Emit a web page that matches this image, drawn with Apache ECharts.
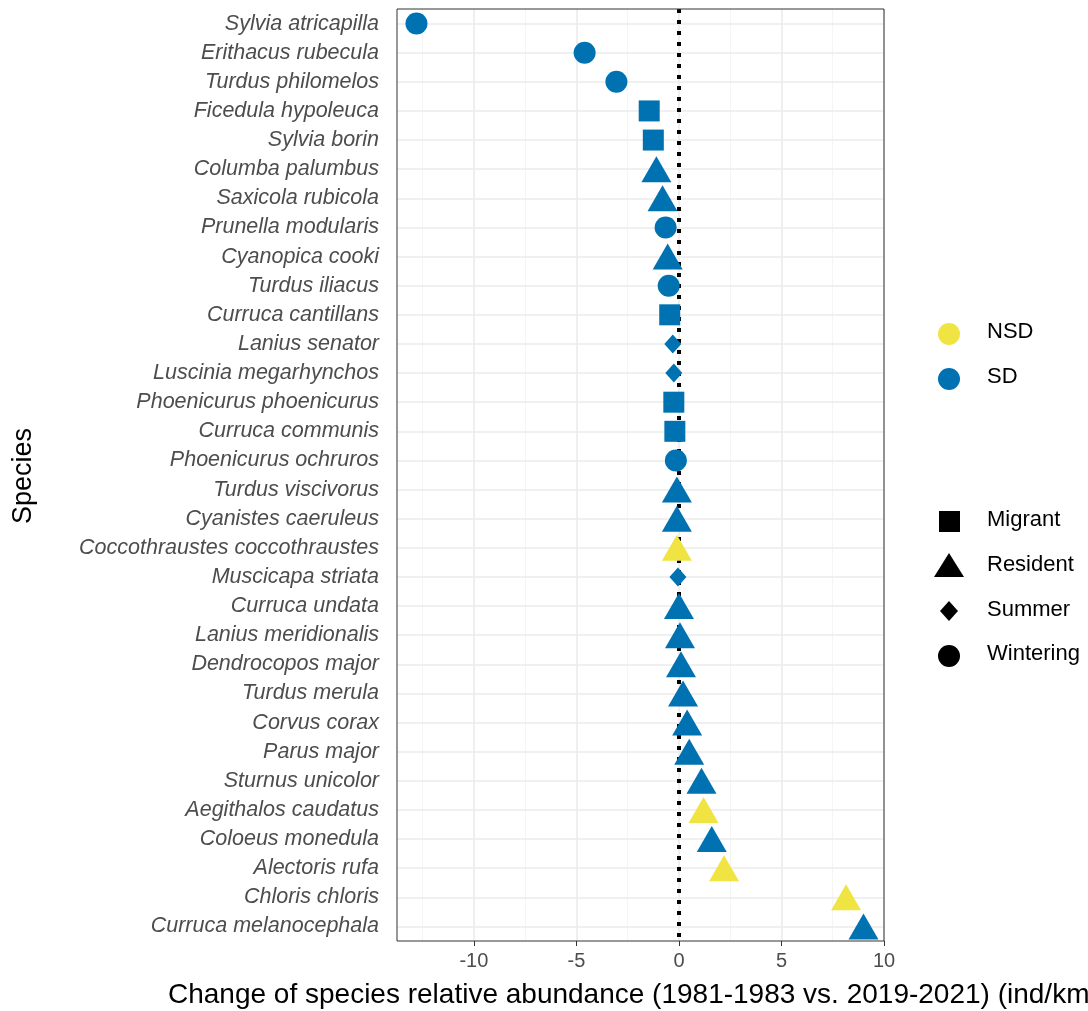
<!DOCTYPE html>
<html><head><meta charset="utf-8">
<script src="https://cdn.jsdelivr.net/npm/echarts@6/dist/echarts.min.js"></script>
<style>html,body{margin:0;background:#fff}#c{width:1088px;height:1011px}</style>
</head><body><div id="c"></div>
<script>
var species = ['Sylvia atricapilla','Erithacus rubecula','Turdus philomelos','Ficedula hypoleuca','Sylvia borin','Columba palumbus','Saxicola rubicola','Prunella modularis','Cyanopica cooki','Turdus iliacus','Curruca cantillans','Lanius senator','Luscinia megarhynchos','Phoenicurus phoenicurus','Curruca communis','Phoenicurus ochruros','Turdus viscivorus','Cyanistes caeruleus','Coccothraustes coccothraustes','Muscicapa striata','Curruca undata','Lanius meridionalis','Dendrocopos major','Turdus merula','Corvus corax','Parus major','Sturnus unicolor','Aegithalos caudatus','Coloeus monedula','Alectoris rufa','Chloris chloris','Curruca melanocephala'];
var change = [-12.8,-4.6,-3.05,-1.45,-1.25,-1.1,-0.8,-0.65,-0.55,-0.5,-0.45,-0.3,-0.25,-0.25,-0.2,-0.15,-0.1,-0.1,-0.1,-0.05,0.0,0.05,0.1,0.2,0.4,0.5,1.1,1.2,1.6,2.2,8.15,9.0];
var residency = ['W','W','W','M','M','R','R','W','R','W','M','S','S','M','M','W','R','R','R','S','R','R','R','R','R','R','R','R','R','R','R','R'];
var signif = ['SD','SD','SD','SD','SD','SD','SD','SD','SD','SD','SD','SD','SD','SD','SD','SD','SD','SD','NSD','SD','SD','SD','SD','SD','SD','SD','SD','NSD','SD','NSD','NSD','SD'];
var xTicks = [-10,-5,0,5,10];
var xMinor = [-12.5,-7.5,-2.5,2.5,7.5];

var colors = {SD:'#0072B2', NSD:'#F0E442'};
var shapes = {W:['circle',22], M:['rect',21], R:['triangle',[30,26]], S:['diamond',[17,19]]};

var chart = echarts.init(document.getElementById('c'));
var data = species.map(function (s, i) {
  return {value:[change[i], s], symbol:shapes[residency[i]][0], symbolSize:shapes[residency[i]][1],
    itemStyle:{color:colors[signif[i]]}};
});
var gridLines = xTicks.map(function (v) { return {xAxis:v, lineStyle:{color:'#ebebeb', width:1.6, type:'solid'}}; })
  .concat(xMinor.map(function (v) { return {xAxis:v, lineStyle:{color:'#f3f3f3', width:0.8, type:'solid'}}; }))
  .concat(species.map(function (s) { return {yAxis:s, lineStyle:{color:'#ebebeb', width:1.6, type:'solid'}}; }));

chart.setOption({
  animation:false,
  grid:{left:397, right:204, top:9, bottom:70, show:true, borderColor:'#333', borderWidth:1, z:10},
  xAxis:{type:'value', min:-13.75, max:10.0,
    axisLine:{show:false}, splitLine:{show:false},
    axisTick:{show:true, customValues:xTicks, length:5, lineStyle:{color:'#333'}},
    axisLabel:{customValues:xTicks, fontSize:20, color:'#4d4d4d', fontFamily:'Liberation Sans', margin:10}},
  yAxis:{type:'category', data:species, inverse:true,
    axisLine:{show:false}, splitLine:{show:false},
    axisTick:{alignWithLabel:true, interval:0, length:5, lineStyle:{color:'#333'}},
    axisLabel:{interval:0, fontSize:21.5, fontStyle:'italic', color:'#4d4d4d', fontFamily:'Liberation Sans', margin:18}},
  series:[
    {type:'scatter', data:[], silent:true,
     markLine:{silent:true, symbol:'none', label:{show:false}, data:gridLines, z:0}},
    {type:'scatter', data:[], silent:true,
     markLine:{silent:true, symbol:'none', label:{show:false}, z:1,
       data:[{xAxis:0, lineStyle:{color:'#000', width:4, type:[4,7]}}]}},
    {type:'scatter', data:data, itemStyle:{opacity:1}, z:5}
  ],
  graphic:[
    {type:'text', left:168, top:981, style:{text:'Change of species relative abundance (1981-1983 vs. 2019-2021) (ind/km)', fontSize:28, fill:'#000', fontFamily:'Liberation Sans'}},
    {type:'text', x:10, y:524, rotation:Math.PI/2, style:{text:'Species', fontSize:27, fill:'#000', fontFamily:'Liberation Sans'}},
    {type:'circle', shape:{cx:949, cy:334, r:11}, style:{fill:colors.NSD}},
    {type:'text', left:987, top:321, style:{text:'NSD', fontSize:22, fill:'#000', fontFamily:'Liberation Sans'}},
    {type:'circle', shape:{cx:949, cy:379, r:11}, style:{fill:colors.SD}},
    {type:'text', left:987, top:366, style:{text:'SD', fontSize:22, fill:'#000', fontFamily:'Liberation Sans'}},
    {type:'rect', shape:{x:939, y:511, width:21, height:21}, style:{fill:'#000'}},
    {type:'text', left:987, top:509, style:{text:'Migrant', fontSize:22, fill:'#000', fontFamily:'Liberation Sans'}},
    {type:'polygon', shape:{points:[[949,553],[934,577],[964,577]]}, style:{fill:'#000'}},
    {type:'text', left:987, top:554, style:{text:'Resident', fontSize:22, fill:'#000', fontFamily:'Liberation Sans'}},
    {type:'polygon', shape:{points:[[949,601],[958,611],[949,621],[940,611]]}, style:{fill:'#000'}},
    {type:'text', left:987, top:599, style:{text:'Summer', fontSize:22, fill:'#000', fontFamily:'Liberation Sans'}},
    {type:'circle', shape:{cx:949, cy:656, r:11}, style:{fill:'#000'}},
    {type:'text', left:987, top:643, style:{text:'Wintering', fontSize:22, fill:'#000', fontFamily:'Liberation Sans'}}
  ]
});
</script></body></html>
